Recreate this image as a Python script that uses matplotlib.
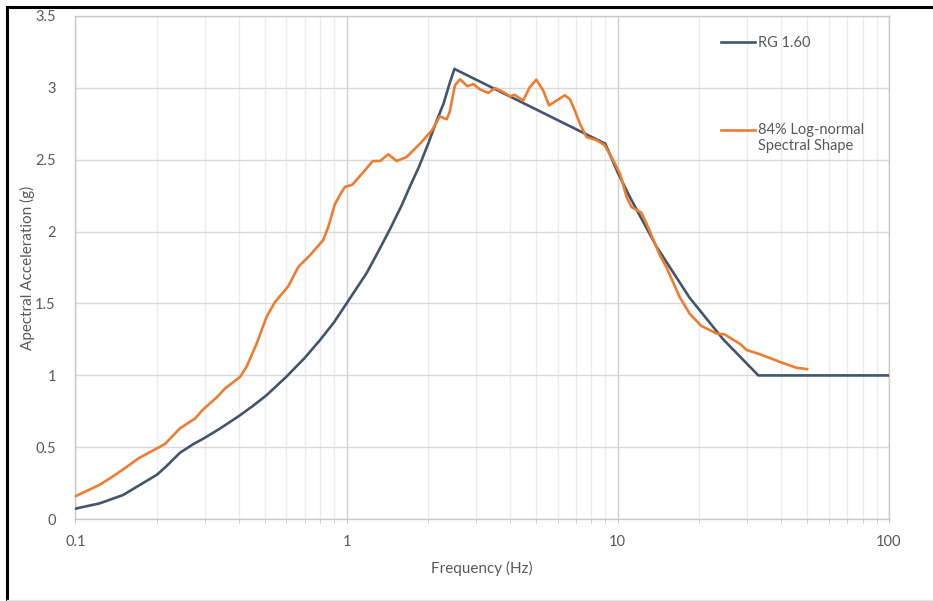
import numpy as np
import matplotlib
matplotlib.use("Agg")
import matplotlib.pyplot as plt
from matplotlib.lines import Line2D
from matplotlib.legend_handler import HandlerLine2D
from matplotlib.ticker import LogLocator, FixedLocator, NullFormatter

# ── Data ──────────────────────────────────────────────────────────────────────
rg_freq = [0.1, 0.123, 0.15, 0.2, 0.217, 0.243, 0.272, 0.3, 0.341, 0.4, 0.45,
           0.507, 0.6, 0.7, 0.798, 0.9, 1.0, 1.185, 1.3, 1.445, 1.6, 1.71,
           1.85, 2.0, 2.15, 2.28, 2.4, 2.5, 9.0, 10.0, 11.08, 13.9, 18.4,
           24.5, 33.0, 100.0]
rg_acc = [0.074, 0.111, 0.169, 0.31, 0.37, 0.462, 0.522, 0.566, 0.63, 0.716, 0.786,
          0.862, 0.991, 1.12, 1.245, 1.37, 1.50, 1.71, 1.85, 2.015, 2.185, 2.31,
          2.45, 2.61, 2.77, 2.89, 3.03, 3.13, 2.61, 2.41, 2.24, 1.895, 1.54,
          1.25, 1.0, 1.0]

ln_freq = [0.1, 0.123, 0.138, 0.152, 0.171, 0.2, 0.214, 0.243, 0.276, 0.296,
           0.332, 0.357, 0.405, 0.428, 0.466, 0.508, 0.545, 0.61, 0.664, 0.733,
           0.82, 0.856, 0.906, 0.943, 0.986, 1.05, 1.15, 1.25, 1.33, 1.425,
           1.53, 1.666, 1.865, 2.06, 2.21, 2.34, 2.40, 2.51, 2.62, 2.79,
           2.94, 3.09, 3.33, 3.53, 3.78, 4.01, 4.17, 4.48, 4.74, 5.01,
           5.31, 5.58, 5.95, 6.38, 6.66, 6.95, 7.25, 7.67, 8.37, 8.95,
           9.62, 10.2, 10.78, 11.24, 12.24, 12.94, 14.3, 15.1, 16.9, 18.4,
           20.3, 23.2, 24.7, 28.2, 29.9, 33.4, 39.6, 45.6, 49.9]
ln_acc = [0.16, 0.24, 0.30, 0.354, 0.424, 0.493, 0.523, 0.632, 0.70, 0.764,
          0.847, 0.91, 0.99, 1.06, 1.22, 1.41, 1.51, 1.62, 1.754, 1.835,
          1.94, 2.03, 2.19, 2.25, 2.31, 2.325, 2.41, 2.49, 2.49, 2.537,
          2.49, 2.518, 2.61, 2.70, 2.80, 2.78, 2.83, 3.016, 3.058, 3.01,
          3.025, 2.99, 2.963, 2.997, 2.97, 2.94, 2.95, 2.91, 3.004, 3.055,
          2.98, 2.877, 2.91, 2.947, 2.92, 2.84, 2.75, 2.657, 2.634, 2.60,
          2.495, 2.40, 2.24, 2.17, 2.13, 2.03, 1.835, 1.754, 1.546, 1.43,
          1.345, 1.29, 1.286, 1.22, 1.176, 1.148, 1.094, 1.053, 1.044]

x_ticks = [0.1, 1, 10, 100]
x_labels = ["0.1", "1", "10", "100"]
y_ticks = [0, 0.5, 1, 1.5, 2, 2.5, 3, 3.5]
y_labels = ["0", "0.5", "1", "1.5", "2", "2.5", "3", "3.5"]

NAVY = "#44546A"
ORANGE = "#ED7D31"
TXT = "#595959"

plt.rcParams["font.family"] = ["Lato", "DejaVu Sans"]


# legend handle sits beside the first line of a two-line label (Excel style)
class FirstLineHandler(HandlerLine2D):
    def create_artists(self, legend, orig_handle, xdescent, ydescent,
                       width, height, fontsize, trans):
        arts = super().create_artists(legend, orig_handle, xdescent, ydescent,
                                      width, height, fontsize, trans)
        for a in arts:
            a.set_ydata(np.asarray(a.get_ydata()) + 0.6 * fontsize)
        return arts


fig = plt.figure(figsize=(9.33, 6.01), dpi=100)
ax = fig.add_axes([0.0807, 0.1359, 0.8721, 0.838])

l_rg, = ax.plot(rg_freq, rg_acc, color=NAVY, lw=1.9, label="RG 1.60", zorder=3)
l_ln, = ax.plot(ln_freq, ln_acc, color=ORANGE, lw=1.9,
                label="84% Log-normal\nSpectral Shape", zorder=4)

ax.set_xscale("log")
ax.set_xlim(0.1, 100)
ax.set_ylim(0, 3.5)
ax.xaxis.set_major_locator(FixedLocator(x_ticks))
ax.set_xticklabels(x_labels)
ax.xaxis.set_minor_locator(LogLocator(base=10, subs=np.arange(2, 10)))
ax.xaxis.set_minor_formatter(NullFormatter())
ax.set_yticks(y_ticks)
ax.set_yticklabels(y_labels)

ax.grid(which="major", axis="x", color="#d0d0d0", lw=1.0, zorder=0)
ax.grid(which="minor", axis="x", color="#ebebeb", lw=1.0, zorder=0)
ax.grid(which="major", axis="y", color="#d9d9d9", lw=1.0, zorder=0)

for s in ax.spines.values():
    s.set_color("#c8c8c8")
    s.set_linewidth(1.0)

ax.tick_params(axis="x", which="both", direction="out", length=3, color="#c8c8c8",
               labelsize=10.5, labelcolor=TXT, pad=8)
ax.tick_params(axis="y", which="both", length=0, labelsize=10.5, labelcolor=TXT, pad=14)

ax.set_xlabel("Frequency (Hz)", color=TXT, fontsize=11, labelpad=9)
ax.set_ylabel("Apectral Acceleration (g)", color=TXT, fontsize=11)
ax.yaxis.set_label_coords(-0.0495, 0.5)

leg = ax.legend(handles=[l_rg, l_ln], loc="upper left", bbox_to_anchor=(0.7775, 0.985),
                frameon=False, fontsize=10.5, labelcolor=TXT, handlelength=2.3,
                handletextpad=0.25, labelspacing=5.0,
                handler_map={l_ln: FirstLineHandler()})

# ── Outer frame (left/top black, bottom faint) ────────────────────────────────
fig.add_artist(Line2D([7 / 933, 7 / 933], [0, 1 - 7 / 601], color="black", lw=2.2))
fig.add_artist(Line2D([7 / 933, 1], [1 - 7 / 601, 1 - 7 / 601], color="black", lw=2.2))
fig.add_artist(Line2D([7 / 933, 1], [1 / 601, 1 / 601], color="#e6e6e6", lw=1.0))

fig.savefig("out.png", dpi=100)
